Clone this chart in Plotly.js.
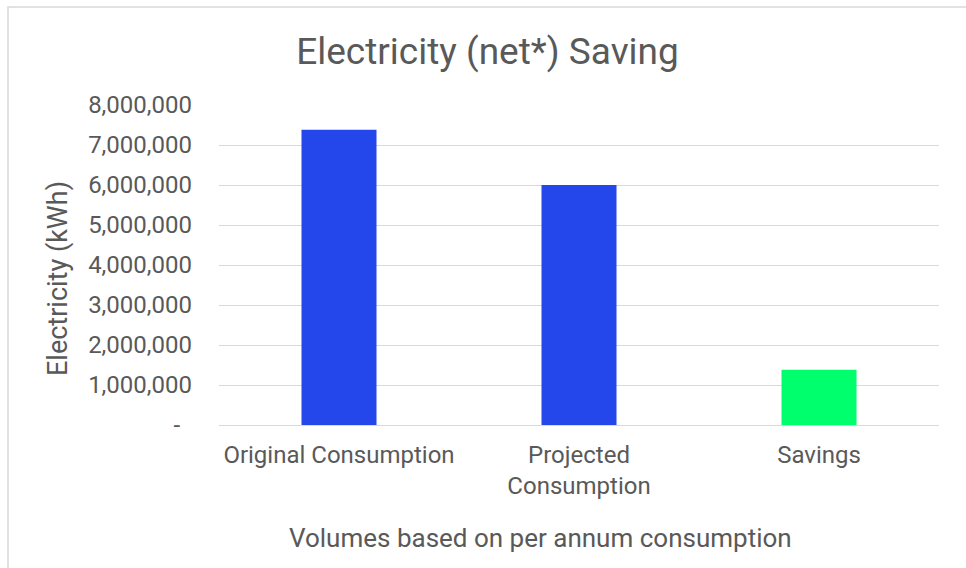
<!DOCTYPE html>
<html>
<head>
<meta charset="utf-8">
<script src="https://cdn.plot.ly/plotly-3.0.1.min.js"></script>
<style>html,body{margin:0;padding:0;background:#fff;}#chart{width:966px;height:568px;}</style>
</head>
<body>
<div id="chart"></div>
<script>
var categories = ["Original Consumption", "Projected<br>Consumption", "Savings"];
var values = [7380000, 6000000, 1380000];
var barColors = ["#2447EC", "#2447EC", "#00FF6C"];
var yTickVals = [0, 1000000, 2000000, 3000000, 4000000, 5000000, 6000000, 7000000, 8000000];
var yTickText = ["-\u00a0\u00a0", "1,000,000", "2,000,000", "3,000,000", "4,000,000", "5,000,000", "6,000,000", "7,000,000", "8,000,000"];
var chartTitle = "Electricity (net*) Saving";
var yTitle = "Electricity (kWh)";
var xTitle = "Volumes based on per annum consumption";

var L = 219, R = 939, T = 105, B = 425, W = 966, H = 568;
function px(x){ return (x - L) / (R - L); }
function py(y){ return (B - y) / (B - T); }

var txt = "#595959";
var font = "Roboto, 'Noto Sans', sans-serif";

var trace = {
  type: "bar",
  x: categories,
  y: values,
  marker: {color: barColors, line: {width: 0}},
  hoverinfo: "x+y"
};

var layout = {
  width: W, height: H,
  margin: {l: L, r: W - R, t: T, b: H - B, pad: 0},
  paper_bgcolor: "#fff",
  plot_bgcolor: "#fff",
  showlegend: false,
  bargap: 0.6875,
  font: {family: font, color: txt, size: 24},
  title: {
    text: chartTitle,
    font: {family: font, size: 37, color: txt},
    xref: "container", yref: "container",
    x: 487.5 / W, y: 1 - 51 / H,
    xanchor: "center", yanchor: "middle"
  },
  xaxis: {
    showgrid: false, zeroline: false, showline: false,
    ticks: "", ticklabelstandoff: 13,
    tickfont: {family: font, size: 24, color: txt},
    fixedrange: true
  },
  yaxis: {
    range: [0, 8000000],
    tickvals: yTickVals, ticktext: yTickText,
    showgrid: true, gridcolor: "#d9d9d9", gridwidth: 1.3,
    zeroline: true, zerolinecolor: "#d9d9d9", zerolinewidth: 1.3,
    showline: false, ticks: "", ticklabelstandoff: 26,
    tickfont: {family: font, size: 24, color: txt},
    fixedrange: true
  },
  annotations: [
    {text: yTitle, xref: "paper", yref: "paper", x: px(58), y: py(279),
     xanchor: "center", yanchor: "middle", textangle: -90, showarrow: false,
     font: {family: font, size: 27, color: txt}},
    {text: xTitle, xref: "paper", yref: "paper", x: px(540), y: py(538),
     xanchor: "center", yanchor: "middle", showarrow: false,
     font: {family: font, size: 26, color: txt}}
  ],
  shapes: [
    {type: "rect", xref: "paper", yref: "paper",
     x0: px(8), x1: px(980), y0: py(7), y1: py(590),
     line: {color: "#d9d9d9", width: 1.5}, fillcolor: "rgba(0,0,0,0)", layer: "below"}
  ]
};

Plotly.newPlot("chart", [trace], layout, {displayModeBar: false, staticPlot: false});
</script>
</body>
</html>
